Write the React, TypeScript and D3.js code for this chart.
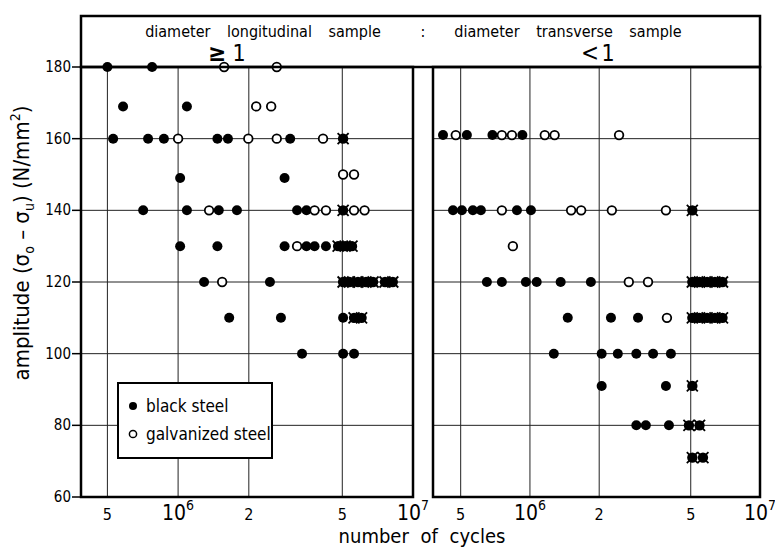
import React from "react";
import { scaleLog, scaleLinear } from "d3";

// [cycles, amplitude N/mm2]
const leftBlack: [number, number][] = [
  [5.0e5, 180], [7.75e5, 180],
  [5.83e5, 169], [1.09e6, 169],
  [5.29e5, 160], [7.45e5, 160], [8.7e5, 160], [1.47e6, 160], [1.63e6, 160], [3.0e6, 160],
  [1.02e6, 149], [2.84e6, 149],
  [7.1e5, 140], [1.09e6, 140], [1.49e6, 140], [1.78e6, 140], [3.21e6, 140], [3.52e6, 140],
  [1.02e6, 130], [1.47e6, 130], [2.84e6, 130], [3.52e6, 130], [3.81e6, 130], [4.26e6, 130],
  [1.29e6, 120], [2.46e6, 120],
  [1.65e6, 110], [2.74e6, 110], [5.04e6, 110],
  [3.37e6, 100], [5.04e6, 100], [5.61e6, 100],
];
const leftGalv: [number, number][] = [
  [1.57e6, 180], [2.63e6, 180],
  [2.15e6, 169], [2.49e6, 169],
  [1.0e6, 160], [1.99e6, 160], [2.63e6, 160], [4.14e6, 160],
  [5.04e6, 150], [5.61e6, 150],
  [1.355e6, 140], [3.81e6, 140], [4.26e6, 140], [5.61e6, 140], [6.22e6, 140],
  [3.21e6, 130],
  [1.54e6, 120],
];
const leftRunout: [number, number][] = [
  [5.04e6, 160], [5.04e6, 140],
  [4.8e6, 130], [5.14e6, 130], [5.5e6, 130],
  [5.04e6, 120], [5.37e6, 120], [5.83e6, 120], [6.31e6, 120], [6.76e6, 120], [7.6e6, 120], [8.2e6, 120],
  [5.61e6, 110], [6.04e6, 110],
];

const rightBlack: [number, number][] = [
  [4.19e5, 161], [5.32e5, 161], [6.87e5, 161], [9.27e5, 161],
  [4.63e5, 140], [5.06e5, 140], [5.65e5, 140], [6.12e5, 140], [8.78e5, 140], [1.01e6, 140],
  [6.5e5, 120], [7.55e5, 120], [9.6e5, 120], [1.07e6, 120], [1.36e6, 120], [1.84e6, 120],
  [1.46e6, 110], [2.25e6, 110], [2.95e6, 110],
  [1.27e6, 100], [2.05e6, 100], [2.41e6, 100], [2.9e6, 100], [3.43e6, 100], [4.1e6, 100],
  [2.05e6, 91], [3.9e6, 91],
  [2.9e6, 80], [3.19e6, 80], [4.02e6, 80],
];
const rightGalv: [number, number][] = [
  [4.76e5, 161], [7.55e5, 161], [8.35e5, 161], [1.16e6, 161], [1.28e6, 161], [2.44e6, 161],
  [7.55e5, 140], [1.51e6, 140], [1.67e6, 140], [2.27e6, 140], [3.9e6, 140],
  [8.43e5, 130],
  [2.69e6, 120], [3.26e6, 120],
  [3.94e6, 110],
];
const rightRunout: [number, number][] = [
  [5.08e6, 140],
  [5.08e6, 120], [5.46e6, 120], [5.89e6, 120], [6.37e6, 120], [6.87e6, 120],
  [5.08e6, 110], [5.46e6, 110], [5.89e6, 110], [6.37e6, 110], [6.87e6, 110],
  [5.08e6, 91],
  [4.91e6, 80], [5.46e6, 80],
  [5.08e6, 71], [5.65e6, 71],
];

const yTicks = [60, 80, 100, 120, 140, 160, 180];
const xGrid = [5e5, 1e6, 2e6, 5e6];
const xTickLabels: { v: number; base: string; exp?: string }[] = [
  { v: 5e5, base: "5" },
  { v: 1e6, base: "10", exp: "6" },
  { v: 2e6, base: "2" },
  { v: 5e6, base: "5" },
  { v: 1e7, base: "10", exp: "7" },
];

const FONT = "'DejaVu Sans Condensed', 'DejaVu Sans', sans-serif";
const Y_TOP = 67;
const Y_BOT = 497;

const y = scaleLinear().domain([60, 180]).range([Y_BOT, Y_TOP]);

type PanelProps = {
  x0: number;
  x1: number;
  minCycles: number;
  black: [number, number][];
  galv: [number, number][];
  runout: [number, number][];
};

const Panel = ({ x0, x1, minCycles, black, galv, runout }: PanelProps) => {
  const x = scaleLog().domain([minCycles, 1e7]).range([x0, x1]);
  return (
    <g>
      {xGrid.map((v) => (
        <line key={"vx" + v} x1={x(v)} x2={x(v)} y1={Y_TOP} y2={Y_BOT} stroke="#222" strokeWidth={1} />
      ))}
      {yTicks.slice(1, -1).map((v) => (
        <line key={"hy" + v} x1={x0} x2={x1} y1={y(v)} y2={y(v)} stroke="#222" strokeWidth={1} />
      ))}
      {black.map(([c, a], i) => (
        <circle key={"b" + i} cx={x(c)} cy={y(a)} r={5} fill="#000" />
      ))}
      {galv.map(([c, a], i) => (
        <circle key={"g" + i} cx={x(c)} cy={y(a)} r={4.3} fill="#fff" stroke="#000" strokeWidth={1.8} />
      ))}
      {runout.map(([c, a], i) => {
        const cx = x(c);
        const cy = y(a);
        return (
          <g key={"r" + i} stroke="#000" strokeWidth={1.8}>
            <circle cx={cx} cy={cy} r={4.3} fill="#000" />
            <line x1={cx - 5.5} x2={cx + 5.5} y1={cy - 5.5} y2={cy + 5.5} />
            <line x1={cx - 5.5} x2={cx + 5.5} y1={cy + 5.5} y2={cy - 5.5} />
          </g>
        );
      })}
      <rect x={x0} y={Y_TOP} width={x1 - x0} height={Y_BOT - Y_TOP} fill="none" stroke="#000" strokeWidth={2.5} />
      {xTickLabels.map((t) => (
        <text key={"xl" + t.v} x={x(t.v)} y={520} fontSize={t.exp ? 21 : 16} textAnchor="middle" fontFamily={FONT}>
          {t.base}
          {t.exp && (
            <tspan dy={-10} fontSize={14}>
              {t.exp}
            </tspan>
          )}
        </text>
      ))}
    </g>
  );
};

const App = () => {
  return (
    <div style={{ position: "fixed", left: 0, top: 0 }}>
      <svg width={775} height={549} style={{ display: "block", background: "#fff" }}>
        {/* header box */}
        <rect x={81} y={16} width={679} height={Y_TOP - 16} fill="none" stroke="#000" strokeWidth={2.5} />
        <text x={263} y={37} fontSize={16} textAnchor="middle" fontFamily={FONT} wordSpacing={12}>
          diameter longitudinal sample
        </text>
        <text x={423} y={37} fontSize={16} textAnchor="middle" fontFamily={FONT}>
          :
        </text>
        <text x={568} y={37} fontSize={16} textAnchor="middle" fontFamily={FONT} wordSpacing={12}>
          diameter transverse sample
        </text>
        <text x={217} y={61} fontSize={24} textAnchor="middle" fontFamily={FONT} fontWeight="bold">
          ≥
        </text>
        <text x={239} y={61} fontSize={23} textAnchor="middle" fontFamily={FONT}>
          1
        </text>
        <text x={590} y={61} fontSize={24} textAnchor="middle" fontFamily={FONT}>
          &lt;
        </text>
        <text x={608} y={61} fontSize={23} textAnchor="middle" fontFamily={FONT}>
          1
        </text>

        <Panel x0={81} x1={413} minCycles={3.86e5} black={leftBlack} galv={leftGalv} runout={leftRunout} />
        <Panel x0={433} x1={760} minCycles={3.79e5} black={rightBlack} galv={rightGalv} runout={rightRunout} />

        {/* y axis ticks */}
        {yTicks.map((v) => (
          <g key={"yt" + v}>
            <line x1={72} x2={81} y1={y(v)} y2={y(v)} stroke="#000" strokeWidth={1.5} />
            <text x={71} y={y(v) + 5} fontSize={15} textAnchor="end" fontFamily={FONT}>
              {v}
            </text>
          </g>
        ))}

        {/* legend */}
        <rect x={118} y={383} width={154} height={75} fill="#fff" stroke="#000" strokeWidth={2} />
        <circle cx={133} cy={406} r={4} fill="#000" />
        <text x={146} y={412} fontSize={17} fontFamily={FONT}>
          black steel
        </text>
        <circle cx={133} cy={434} r={3.6} fill="#fff" stroke="#000" strokeWidth={1.5} />
        <text x={146} y={440} fontSize={17} fontFamily={FONT}>
          galvanized steel
        </text>

        {/* axis titles */}
        <text x={422} y={543} fontSize={20} textAnchor="middle" fontFamily={FONT} wordSpacing={6}>
          number of cycles
        </text>
        <text
          transform="translate(29,243) rotate(-90)"
          fontSize={22}
          textAnchor="middle"
          fontFamily={FONT}
        >
          amplitude (σ<tspan fontSize={14} dy={5}>o</tspan>
          <tspan dy={-5}> – σ</tspan>
          <tspan fontSize={14} dy={5}>u</tspan>
          <tspan dy={-5}>) (N/mm</tspan>
          <tspan fontSize={14} dy={-9}>2</tspan>
          <tspan dy={9}>)</tspan>
        </text>
      </svg>
    </div>
  );
};

export default App;
